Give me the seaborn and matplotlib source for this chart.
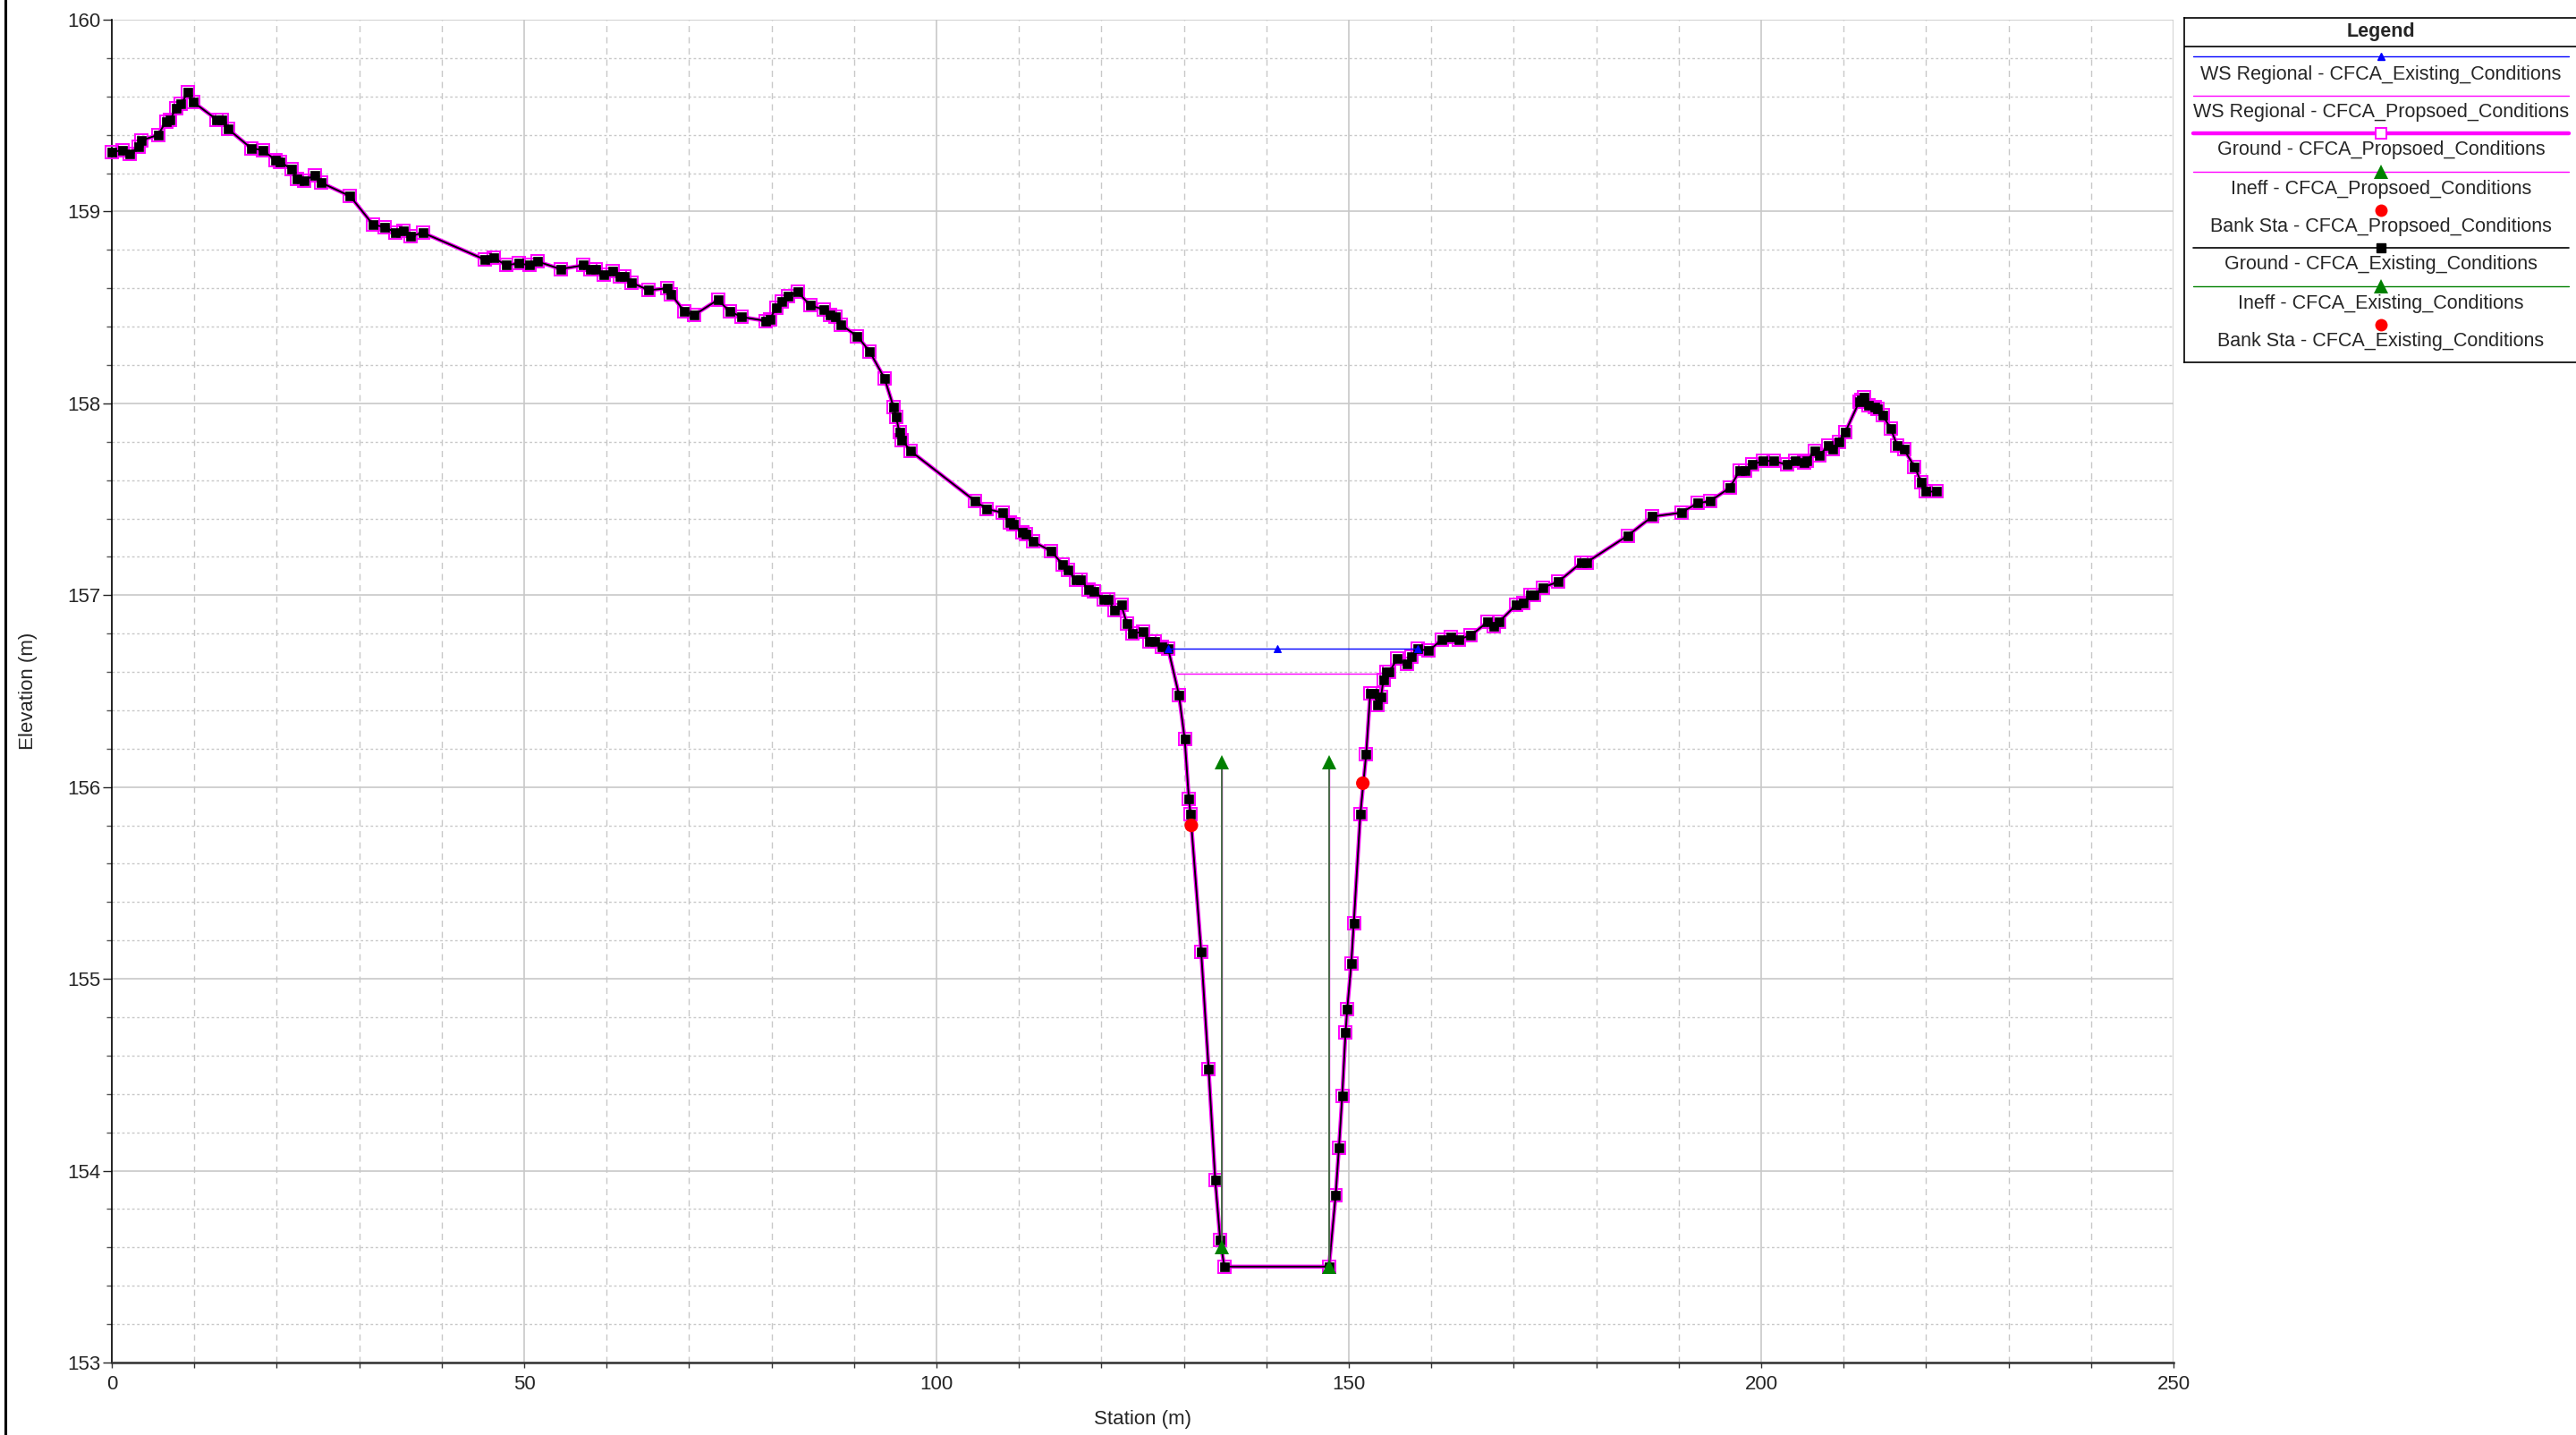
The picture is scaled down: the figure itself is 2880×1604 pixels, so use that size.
import numpy as np
import pandas as pd
import seaborn as sns
import matplotlib.pyplot as plt
from matplotlib.lines import Line2D
from matplotlib.ticker import MultipleLocator

# --- DATA ---
station = [0.0, 1.3, 2.2, 3.3, 3.6, 5.6, 6.6, 7.1, 7.8, 8.4, 9.2, 9.9, 12.7, 13.3, 14.1,
           16.9, 18.3, 19.8, 20.4, 21.8, 22.5, 23.3, 24.6, 25.4, 28.9, 31.7, 33.1, 34.4,
           35.4, 36.2, 37.7, 45.2, 46.3, 47.8, 49.4, 50.6, 51.6, 54.4, 57.2, 58.0, 58.7,
           59.6, 60.7, 61.6, 62.2, 63.0, 65.1, 67.4, 67.8, 69.4, 70.6, 73.5, 74.9, 76.4,
           79.3, 79.8, 80.6, 81.2, 82.0, 83.2, 84.7, 86.3, 87.1, 87.7, 88.4, 90.4, 91.9,
           93.7, 94.8, 95.1, 95.5, 95.8, 96.9, 104.7, 106.1, 108.0, 108.9, 109.3, 110.4,
           110.9, 111.7, 113.9, 115.3, 115.9, 116.9, 117.5, 118.4, 119.1, 120.3, 120.8,
           121.6, 122.4, 123.1, 123.8, 125.1, 125.8, 126.5, 127.3, 128.1, 129.4, 130.1,
           130.6, 130.8, 132.1, 133.0, 133.8, 134.4, 134.9, 147.6, 148.4, 148.8, 149.2,
           149.6, 149.8, 150.3, 150.6, 151.4, 152.1, 152.6, 153.0, 153.5, 153.9, 154.2,
           154.6, 154.9, 155.9, 157.0, 157.6, 158.4, 159.7, 161.3, 162.4, 163.3, 164.8,
           166.8, 167.6, 168.2, 170.3, 171.1, 172.0, 172.5, 173.5, 175.4, 178.2, 178.8,
           183.8, 186.8, 190.3, 192.3, 193.8, 196.2, 197.4, 198.0, 198.9, 200.2, 201.5,
           203.1, 204.1, 205.2, 205.5, 206.5, 207.1, 208.1, 208.7, 209.4, 210.2, 211.9,
           212.2, 212.5, 213.0, 213.8, 214.1, 214.7, 215.7, 216.5, 217.3, 218.6, 219.4,
           220.0, 221.3]
ground = [159.31, 159.32, 159.30, 159.34, 159.37, 159.40, 159.47, 159.48, 159.54, 159.56,
          159.62, 159.57, 159.48, 159.48, 159.43, 159.33, 159.32, 159.27, 159.26, 159.22,
          159.17, 159.16, 159.19, 159.15, 159.08, 158.93, 158.92, 158.89, 158.90, 158.87,
          158.89, 158.75, 158.76, 158.72, 158.73, 158.72, 158.74, 158.70, 158.72, 158.70,
          158.70, 158.67, 158.69, 158.66, 158.66, 158.63, 158.59, 158.60, 158.57, 158.48,
          158.46, 158.54, 158.48, 158.45, 158.43, 158.44, 158.50, 158.53, 158.56, 158.58,
          158.51, 158.49, 158.46, 158.45, 158.41, 158.35, 158.27, 158.13, 157.98, 157.93,
          157.85, 157.81, 157.75, 157.49, 157.45, 157.43, 157.38, 157.37, 157.33, 157.32,
          157.28, 157.23, 157.16, 157.13, 157.08, 157.08, 157.03, 157.02, 156.98, 156.98,
          156.92, 156.95, 156.85, 156.80, 156.81, 156.76, 156.76, 156.73, 156.72, 156.48,
          156.25, 155.94, 155.86, 155.14, 154.53, 153.95, 153.64, 153.50, 153.50, 153.87,
          154.12, 154.39, 154.72, 154.84, 155.08, 155.29, 155.86, 156.17, 156.49, 156.49,
          156.43, 156.47, 156.56, 156.60, 156.60, 156.67, 156.64, 156.68, 156.72, 156.71,
          156.77, 156.78, 156.77, 156.79, 156.86, 156.84, 156.86, 156.95, 156.96, 157.00,
          157.00, 157.04, 157.07, 157.17, 157.17, 157.31, 157.41, 157.43, 157.48, 157.49,
          157.56, 157.65, 157.65, 157.68, 157.70, 157.70, 157.68, 157.70, 157.69, 157.70,
          157.75, 157.73, 157.78, 157.76, 157.80, 157.85, 158.01, 158.02, 158.03, 157.99,
          157.98, 157.97, 157.94, 157.87, 157.78, 157.76, 157.67, 157.59, 157.54, 157.54]

ws_exist_x = [128.1, 141.3, 158.4]
ws_exist_y = [156.72, 156.72, 156.72]
ws_prop_x = [129.2, 153.8]
ws_prop_y = [156.59, 156.59]

ineff_left_x = [134.55, 134.55]
ineff_left_y = [153.60, 156.13]
ineff_right_x = [147.6, 147.6]
ineff_right_y = [153.50, 156.13]

bank_x = [130.9, 151.7]
bank_y = [155.80, 156.02]

legend_labels = ["WS Regional - CFCA_Existing_Conditions",
                 "WS Regional - CFCA_Propsoed_Conditions",
                 "Ground - CFCA_Propsoed_Conditions",
                 "Ineff - CFCA_Propsoed_Conditions",
                 "Bank Sta - CFCA_Propsoed_Conditions",
                 "Ground - CFCA_Existing_Conditions",
                 "Ineff - CFCA_Existing_Conditions",
                 "Bank Sta - CFCA_Existing_Conditions"]

MAGENTA = "#ff00ff"
GREEN = "#008000"
BLUE = "#0000ff"
RED = "#ff0000"

sns.set_style("white")
plt.rcParams['font.family'] = ['Liberation Sans', 'DejaVu Sans']

W, H = 2880, 1604
fig = plt.figure(figsize=(W / 100, H / 100), dpi=100)
ax = fig.add_axes([125 / W, 1 - 1523 / H, 2305 / W, 1501 / H])

# ground, proposed (thick magenta, open squares) under existing (black squares)
sns.lineplot(x=station, y=ground, sort=False, estimator=None, ax=ax, color=MAGENTA,
             linewidth=3.2, marker='s', markersize=9.5, markerfacecolor='none',
             markeredgecolor=MAGENTA, markeredgewidth=1.4, clip_on=False, zorder=3)
sns.lineplot(x=station, y=ground, sort=False, estimator=None, ax=ax, color='black',
             linewidth=1.4, marker='s', markersize=7, markerfacecolor='black',
             markeredgecolor='black', markeredgewidth=0.5, clip_on=False, zorder=4)

# water surfaces
sns.lineplot(x=ws_exist_x, y=ws_exist_y, sort=False, estimator=None, ax=ax, color=BLUE,
             linewidth=1.0, marker='^', markersize=5.5, markerfacecolor=BLUE,
             markeredgecolor=BLUE, zorder=5)
sns.lineplot(x=ws_prop_x, y=ws_prop_y, sort=False, estimator=None, ax=ax, color=MAGENTA,
             linewidth=1.0, zorder=5)

# ineffective flow areas (proposed magenta line under existing green line)
for xs, ys in [(ineff_left_x, ineff_left_y), (ineff_right_x, ineff_right_y)]:
    sns.lineplot(x=xs, y=ys, sort=False, estimator=None, ax=ax, color=MAGENTA,
                 linewidth=1.0, zorder=5)
    sns.lineplot(x=xs, y=ys, sort=False, estimator=None, ax=ax, color="#476b47",
                 linewidth=1.4, zorder=6)
    ax.plot(xs, ys, ls='none', marker='^', markersize=11, color=GREEN,
            markeredgewidth=0, zorder=7)

# bank stations
sns.scatterplot(x=bank_x, y=bank_y, ax=ax, color=RED, s=120, edgecolor='none', zorder=8)

ax.set_xlim(0, 250)
ax.set_ylim(153, 160)
ax.xaxis.set_major_locator(MultipleLocator(50))
ax.xaxis.set_minor_locator(MultipleLocator(10))
ax.yaxis.set_major_locator(MultipleLocator(1))
ax.yaxis.set_minor_locator(MultipleLocator(0.2))

ax.grid(True, which='major', color='#c8c8c8', linewidth=1.2, linestyle='-')
ax.xaxis.grid(True, which='minor', color='#c8c8c8', linewidth=1.0, linestyle=(0, (5, 4)))
ax.yaxis.grid(True, which='minor', color='#c8c8c8', linewidth=1.0, linestyle=(0, (2, 2)))
ax.set_axisbelow(True)

for s in ['top', 'right']:
    ax.spines[s].set_visible(False)
ax.spines['left'].set_color('black')
ax.spines['left'].set_linewidth(1.2)
ax.spines['bottom'].set_color('#333333')
ax.spines['bottom'].set_linewidth(1.8)

ax.tick_params(axis='x', which='both', direction='out', length=4, width=1,
               color='#333333', labelsize=16, pad=6, bottom=True)
ax.tick_params(axis='y', which='major', direction='out', length=7, width=1,
               labelsize=16, pad=2, left=True)
ax.tick_params(axis='y', which='minor', direction='out', length=4, width=1, left=True,
               color='#555555')

ax.set_xlabel("Station (m)", fontsize=16, labelpad=13)
ax.set_ylabel("Elevation (m)", fontsize=16, labelpad=24)

# left frame line
fig.add_artist(Line2D([6 / W, 6 / W], [0, 1], transform=fig.transFigure,
                      color='black', linewidth=2.2))

# legend panel, samples above centred labels
lx0, ly0, lw_, lh_ = 2442, 20, 446, 385
lax = fig.add_axes([lx0 / W, 1 - (ly0 + lh_) / H, lw_ / W, lh_ / H])
lax.set_xlim(0, lw_)
lax.set_ylim(lh_, 0)
lax.set_xticks([])
lax.set_yticks([])
for s in lax.spines.values():
    s.set_color('black')
    s.set_linewidth(1.2)
lax.text(220, 15, "Legend", ha='center', va='center', fontsize=15.5, fontweight='bold')
lax.plot([0, lw_], [32, 32], color='black', linewidth=1.2)

sample_y = [43, 87, 129, 172, 215, 257, 300, 343]
label_y = [63, 106, 148, 191, 234, 276, 319, 362]
line_styles = [
    dict(color=BLUE, lw=1.0, marker='^', ms=5.5, mfc=BLUE, mec=BLUE),
    dict(color=MAGENTA, lw=1.0, marker=None),
    dict(color=MAGENTA, lw=3.2, marker='s', ms=9, mfc='white', mec=MAGENTA, mew=1.4),
    dict(color=MAGENTA, lw=1.0, marker='^', ms=11, mfc=GREEN, mec=GREEN, mew=0),
    dict(color=None, marker='o', ms=10, mfc=RED, mec=RED, mew=0),
    dict(color='black', lw=1.2, marker='s', ms=6.5, mfc='black', mec='black'),
    dict(color=GREEN, lw=1.0, marker='^', ms=11, mfc=GREEN, mec=GREEN, mew=0),
    dict(color=None, marker='o', ms=10, mfc=RED, mec=RED, mew=0),
]
for sy, ty, lab, st in zip(sample_y, label_y, legend_labels, line_styles):
    st = dict(st)
    col = st.pop('color')
    mk = st.pop('marker')
    ms = st.pop('ms', 0)
    mfc = st.pop('mfc', None)
    mec = st.pop('mec', None)
    mew = st.pop('mew', 1.0)
    lw = st.pop('lw', 1.0)
    if col is not None:
        lax.plot([10, 430], [sy, sy], color=col, linewidth=lw)
    if mk is not None:
        lax.plot([220], [sy], marker=mk, markersize=ms, markerfacecolor=mfc,
                 markeredgecolor=mec, markeredgewidth=mew, ls='none')
    lax.text(220, ty, lab, ha='center', va='center', fontsize=15.5)

fig.savefig("out.png", dpi=100)
